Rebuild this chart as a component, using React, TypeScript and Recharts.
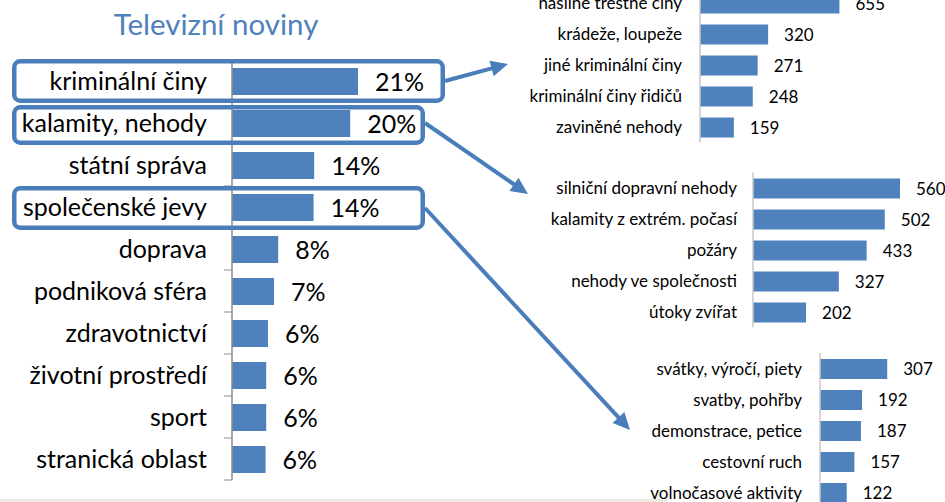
import React from 'react';
import { BarChart, Bar, XAxis, YAxis, LabelList } from 'recharts';

// ---------- data ----------
const chartTitle = 'Televizní noviny';

const mainCategories = [
  'kriminální činy',
  'kalamity, nehody',
  'státní správa',
  'společenské jevy',
  'doprava',
  'podniková sféra',
  'zdravotnictví',
  'životní prostředí',
  'sport',
  'stranická oblast',
];
const mainShares = [21.0, 19.7, 13.7, 13.6, 7.7, 7.0, 6.0, 5.7, 5.7, 5.6];

const crimeCategories = [
  'násilné trestné činy',
  'krádeže, loupeže',
  'jiné kriminální činy',
  'kriminální činy řidičů',
  'zaviněné nehody',
];
const crimeCounts = [655, 320, 271, 248, 159];

const calamityCategories = [
  'silniční dopravní nehody',
  'kalamity z extrém. počasí',
  'požáry',
  'nehody ve společnosti',
  'útoky zvířat',
];
const calamityCounts = [560, 502, 433, 327, 202];

const socialCategories = [
  'svátky, výročí, piety',
  'svatby, pohřby',
  'demonstrace, petice',
  'cestovní ruch',
  'volnočasové aktivity',
];
const socialCounts = [307, 192, 187, 157, 122];

const highlighted = ['kriminální činy', 'kalamity, nehody', 'společenské jevy'];

// ---------- styles ----------
const FONT = "Lato, 'Open Sans', sans-serif";
const BLUE = '#4F81BD';
const LINE_BLUE = '#4A7EBB';

const toRows = (cats: string[], vals: number[]) => cats.map((name, i) => ({ name, value: vals[i] }));

// main chart layout
const MAIN_W = 470;
const MAIN_H = 502;
const MAIN_MARGIN = { top: 60, right: 28, bottom: 22, left: 0 };
const MAIN_AXIS_W = 232;
const MAIN_BAND = (MAIN_H - MAIN_MARGIN.top - MAIN_MARGIN.bottom) / mainCategories.length;

type TickOpts = { fontSize: number; boundaryTicks?: { axisX: number; band: number; len: number; color: string } };

function makeTick(opts: TickOpts) {
  return (props: any) => {
    const { x, y, payload, index } = props;
    const b = opts.boundaryTicks;
    return (
      <g>
        <text x={x} y={y} dy="0.36em" textAnchor="end" fontSize={opts.fontSize} fontFamily={FONT} fill="#000">
          {payload.value}
        </text>
        {b && (
          <line x1={b.axisX - b.len} x2={b.axisX} y1={y + b.band / 2} y2={y + b.band / 2} stroke={b.color} strokeWidth={1} />
        )}
        {b && index === 0 && (
          <line x1={b.axisX - b.len} x2={b.axisX} y1={y - b.band / 2} y2={y - b.band / 2} stroke={b.color} strokeWidth={1} />
        )}
      </g>
    );
  };
}

function makeValueLabel(fontSize: number, offset: number, fmt: (v: number) => string) {
  return (props: any) => {
    const x = Number(props.x) + Number(props.width) + offset;
    const y = Number(props.y) + Number(props.height) / 2;
    return (
      <text x={x} y={y} dy="0.36em" textAnchor="start" fontSize={fontSize} fontFamily={FONT} fill="#000">
        {fmt(Number(props.value))}
      </text>
    );
  };
}

function SmallChart(p: {
  cats: string[];
  vals: number[];
  left: number;
  top: number;
  width: number;
  height: number;
  margin: { top: number; right: number; bottom: number; left: number };
  axisW: number;
  tickMargin: number;
  max: number;
}) {
  return (
    <div style={{ position: 'absolute', left: p.left, top: p.top }}>
      <BarChart width={p.width} height={p.height} data={toRows(p.cats, p.vals)} layout="vertical" margin={p.margin}>
        <XAxis type="number" domain={[0, p.max]} hide />
        <YAxis
          type="category"
          dataKey="name"
          width={p.axisW}
          axisLine={{ stroke: '#C8C8C8', strokeWidth: 1.5 }}
          tickLine={false}
          tickSize={0}
          tickMargin={p.tickMargin}
          interval={0}
          tick={makeTick({ fontSize: 17 })}
        />
        <Bar dataKey="value" fill={BLUE} barSize={20} isAnimationActive={false}>
          <LabelList dataKey="value" content={makeValueLabel(17, 16, (v) => String(v))} />
        </Bar>
      </BarChart>
    </div>
  );
}

function arrowPath(sx: number, sy: number, tx: number, ty: number) {
  const dx = tx - sx;
  const dy = ty - sy;
  const len = Math.hypot(dx, dy);
  const ux = dx / len;
  const uy = dy / len;
  const L = 17;
  const W = 8;
  const bx = tx - ux * L;
  const by = ty - uy * L;
  const nx = -uy;
  const ny = ux;
  return {
    line: { x1: sx, y1: sy, x2: bx + ux * 2, y2: by + uy * 2 },
    head: `${tx},${ty} ${bx + nx * W},${by + ny * W} ${bx - nx * W},${by - ny * W}`,
  };
}

const boxSpecs = [
  { right: 445, padTop: 1, padBottom: 1, start: 0.5, tip: [508, 64] },
  { right: 425, padTop: -3, padBottom: 1, start: 0.45, tip: [528, 194] },
  { right: 425, padTop: 0, padBottom: 2, start: 0.5, tip: [630, 430] },
];

function Annotations() {
  const sw = 4.5;
  return (
    <svg width={945} height={502} style={{ position: 'absolute', left: 0, top: 0, pointerEvents: 'none' }}>
      <text x={216} y={35} textAnchor="middle" fontSize={29.5} fontFamily={FONT} fill={BLUE}>
        {chartTitle}
      </text>
      {highlighted.map((cat, i) => {
        const idx = mainCategories.indexOf(cat);
        const s = boxSpecs[i];
        const top = MAIN_MARGIN.top + idx * MAIN_BAND - s.padTop;
        const bottom = MAIN_MARGIN.top + (idx + 1) * MAIN_BAND + s.padBottom;
        const left = 12;
        const a = arrowPath(s.right, top + (bottom - top) * s.start, s.tip[0], s.tip[1]);
        return (
          <g key={cat}>
            <rect
              x={left + sw / 2}
              y={top + sw / 2}
              width={s.right - left - sw}
              height={bottom - top - sw}
              rx={6}
              ry={6}
              fill="none"
              stroke={LINE_BLUE}
              strokeWidth={sw}
            />
            <line {...a.line} stroke={LINE_BLUE} strokeWidth={4} />
            <polygon points={a.head} fill={LINE_BLUE} />
          </g>
        );
      })}
    </svg>
  );
}

export default function App() {
  return (
    <div
      style={{
        position: 'absolute',
        left: 0,
        top: 0,
        width: 945,
        height: 502,
        overflow: 'hidden',
        background: '#FFFFFF',
        fontFamily: FONT,
      }}
    >
      <div style={{ position: 'absolute', left: 0, top: 499, width: 667, height: 3, background: '#EEECE1' }} />

      <div style={{ position: 'absolute', left: 0, top: 0 }}>
        <BarChart width={MAIN_W} height={MAIN_H} data={toRows(mainCategories, mainShares)} layout="vertical" margin={MAIN_MARGIN}>
          <XAxis type="number" domain={[0, 35]} hide />
          <YAxis
            type="category"
            dataKey="name"
            width={MAIN_AXIS_W}
            axisLine={{ stroke: '#8C8C8C', strokeWidth: 1.5 }}
            tickLine={false}
            tickSize={0}
            tickMargin={25}
            interval={0}
            tick={makeTick({
              fontSize: 25,
              boundaryTicks: { axisX: MAIN_AXIS_W, band: MAIN_BAND, len: 8, color: '#8C8C8C' },
            })}
          />
          <Bar dataKey="value" fill={BLUE} barSize={27} isAnimationActive={false}>
            <LabelList dataKey="value" content={makeValueLabel(25, 17, (v) => `${Math.round(v)}%`)} />
          </Bar>
        </BarChart>
      </div>

      <SmallChart
        cats={crimeCategories}
        vals={crimeCounts}
        left={470}
        top={-20}
        width={475}
        height={170}
        margin={{ top: 7.5, right: 96, bottom: 7.5, left: 0 }}
        axisW={230}
        tickMargin={18}
        max={700}
      />
      <SmallChart
        cats={calamityCategories}
        vals={calamityCounts}
        left={500}
        top={160}
        width={445}
        height={180}
        margin={{ top: 12.5, right: 34.5, bottom: 12.5, left: 0 }}
        axisW={253}
        tickMargin={16}
        max={600}
      />
      <SmallChart
        cats={socialCategories}
        vals={socialCounts}
        left={600}
        top={340}
        width={345}
        height={175}
        margin={{ top: 13, right: 37.4, bottom: 7, left: 0 }}
        axisW={220}
        tickMargin={18}
        max={400}
      />

      <Annotations />
    </div>
  );
}
